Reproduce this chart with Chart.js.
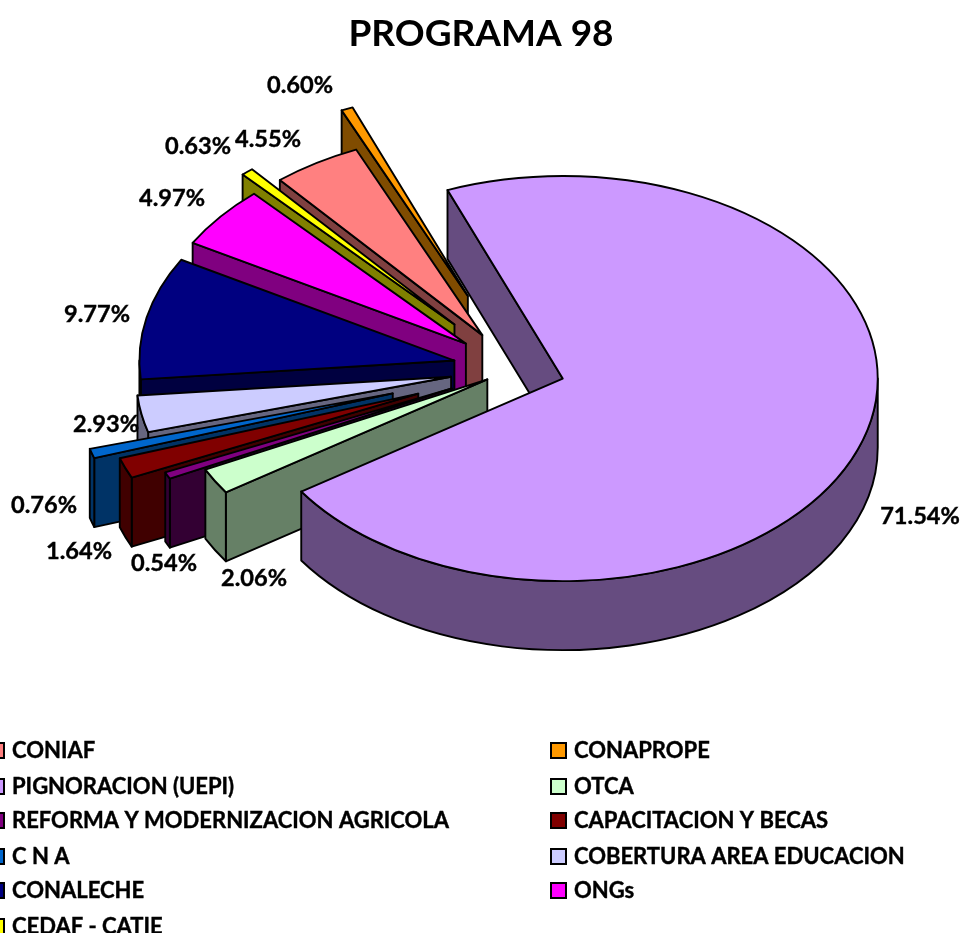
<!DOCTYPE html>
<html>
<head>
<meta charset="utf-8">
<style>html,body{margin:0;padding:0;background:#fff;overflow:hidden}canvas{display:block}</style>
<script src="https://cdn.jsdelivr.net/npm/chart.js@4"></script>
</head>
<body>
<canvas id="c" width="962" height="933"></canvas>
<script>
const titleText = 'PROGRAMA 98';
const categories = ['CONIAF','CONAPROPE','PIGNORACION (UEPI)','OTCA','REFORMA Y MODERNIZACION AGRICOLA','CAPACITACION Y BECAS','C N A','COBERTURA AREA EDUCACION','CONALECHE','ONGs','CEDAF - CATIE'];
const shares = [4.55,0.60,71.54,2.06,0.54,1.64,0.76,2.93,9.77,4.97,0.63];
const explode = [62,123,50,32,70,104,128,65,62,63,92];
const topColors = ['#FF8080','#FF9900','#CC99FF','#CCFFCC','#800080','#800000','#0066CC','#CCCCFF','#000080','#FF00FF','#FFFF00'];
const wallColors = ['#804040','#804C00','#664C80','#668066','#330033','#400000','#003366','#666680','#000040','#800080','#808000'];
const drawOrder = [1,0,10,9,8,7,6,5,4,3,2];
const labelCentres = [[268,139],[300,85],[920,516],[254,578],[164,563],[79,551],[44,505],[106,424],[97,314],[172,198],[198,146]];
const legendRows = [750,786,820,856,890,926];
const legendCols = [-11,551];
const squash = 0.643, depth = 69, pieShiftX = 34;
const FONT = 'Lato, Carlito, sans-serif';

const pie3d = {
  id:'pie3d',
  beforeDatasetDraw(chart,args){
    const ctx = chart.ctx, meta = args.meta;
    ctx.save();
    ctx.translate(pieShiftX,0);
    ctx.lineWidth = 1.9; ctx.lineJoin='round'; ctx.strokeStyle='#000';
    drawOrder.forEach(i=>{
      const el = meta.data[i];
      const p = el.getProps(['x','y','startAngle','endAngle','outerRadius'],true);
      const off = el.options.offset || 0;
      const mid = (p.startAngle+p.endAngle)/2;
      const g = {x:p.x+Math.cos(mid)*off,y:p.y+Math.sin(mid)*off*squash,r:p.outerRadius,s:p.startAngle,e:p.endAngle};
      const edge = a=>[g.x+Math.cos(a)*g.r, g.y+Math.sin(a)*g.r*squash];
      const fillStroke = c=>{ctx.fillStyle=c;ctx.fill();ctx.stroke();};
      const face = a=>{
        const q = edge(a);
        ctx.beginPath();ctx.moveTo(g.x,g.y);ctx.lineTo(q[0],q[1]);ctx.lineTo(q[0],q[1]+depth);ctx.lineTo(g.x,g.y+depth);ctx.closePath();
        fillStroke(wallColors[i]);
      };
      if(Math.cos(g.s)<0) face(g.s);
      if(Math.cos(g.e)>0) face(g.e);
      for(const w of [-2,0,2]){
        const lo = Math.max(g.s,w*Math.PI), hi = Math.min(g.e,(w+1)*Math.PI);
        if(hi>lo){
          ctx.beginPath();
          ctx.ellipse(g.x,g.y,g.r,g.r*squash,0,lo,hi);
          ctx.ellipse(g.x,g.y+depth,g.r,g.r*squash,0,hi,lo,true);
          ctx.closePath();
          fillStroke(wallColors[i]);
        }
      }
      ctx.beginPath();
      ctx.moveTo(g.x,g.y);
      ctx.ellipse(g.x,g.y,g.r,g.r*squash,0,g.s,g.e);
      ctx.closePath();
      fillStroke(topColors[i]);
    });
    ctx.restore();
    return false;
  },
  afterDatasetsDraw(chart){
    const ctx = chart.ctx;
    ctx.save();
    ctx.fillStyle='#000';ctx.strokeStyle='#000';ctx.lineWidth=0.4;
    ctx.font='bold 23.6px '+FONT;
    ctx.textAlign='center';ctx.textBaseline='middle';
    shares.forEach((v,i)=>{
      const t=v.toFixed(2)+'%';
      ctx.fillText(t,labelCentres[i][0],labelCentres[i][1]);
      ctx.strokeText(t,labelCentres[i][0],labelCentres[i][1]);
    });
    ctx.font='bold 22px '+FONT;
    ctx.textAlign='left';
    categories.forEach((name,i)=>{
      const x = legendCols[i%2], y = legendRows[Math.floor(i/2)];
      ctx.fillStyle=topColors[i];ctx.strokeStyle='#000';ctx.lineWidth=2;
      ctx.fillRect(x,y-7,15,15);ctx.strokeRect(x,y-7,15,15);
      ctx.fillStyle='#000';ctx.lineWidth=0.4;
      ctx.fillText(name,x+23,y+1);
      ctx.strokeText(name,x+23,y+1);
    });
    ctx.restore();
  }
};

new Chart(document.getElementById('c'),{
  type:'pie',
  data:{labels:categories,datasets:[{data:shares,backgroundColor:topColors,offset:explode,borderWidth:0}]},
  plugins:[pie3d],
  options:{
    responsive:false,animation:false,
    rotation:-40,radius:315,
    layout:{padding:{left:0,right:0,top:0,bottom:251.4}},
    plugins:{
      legend:{display:false},tooltip:{enabled:false},
      title:{display:true,text:titleText,color:'#000',font:{family:FONT,size:37,weight:'bold'},padding:{top:12,bottom:0}}
    }
  }
});
</script>
</body>
</html>
